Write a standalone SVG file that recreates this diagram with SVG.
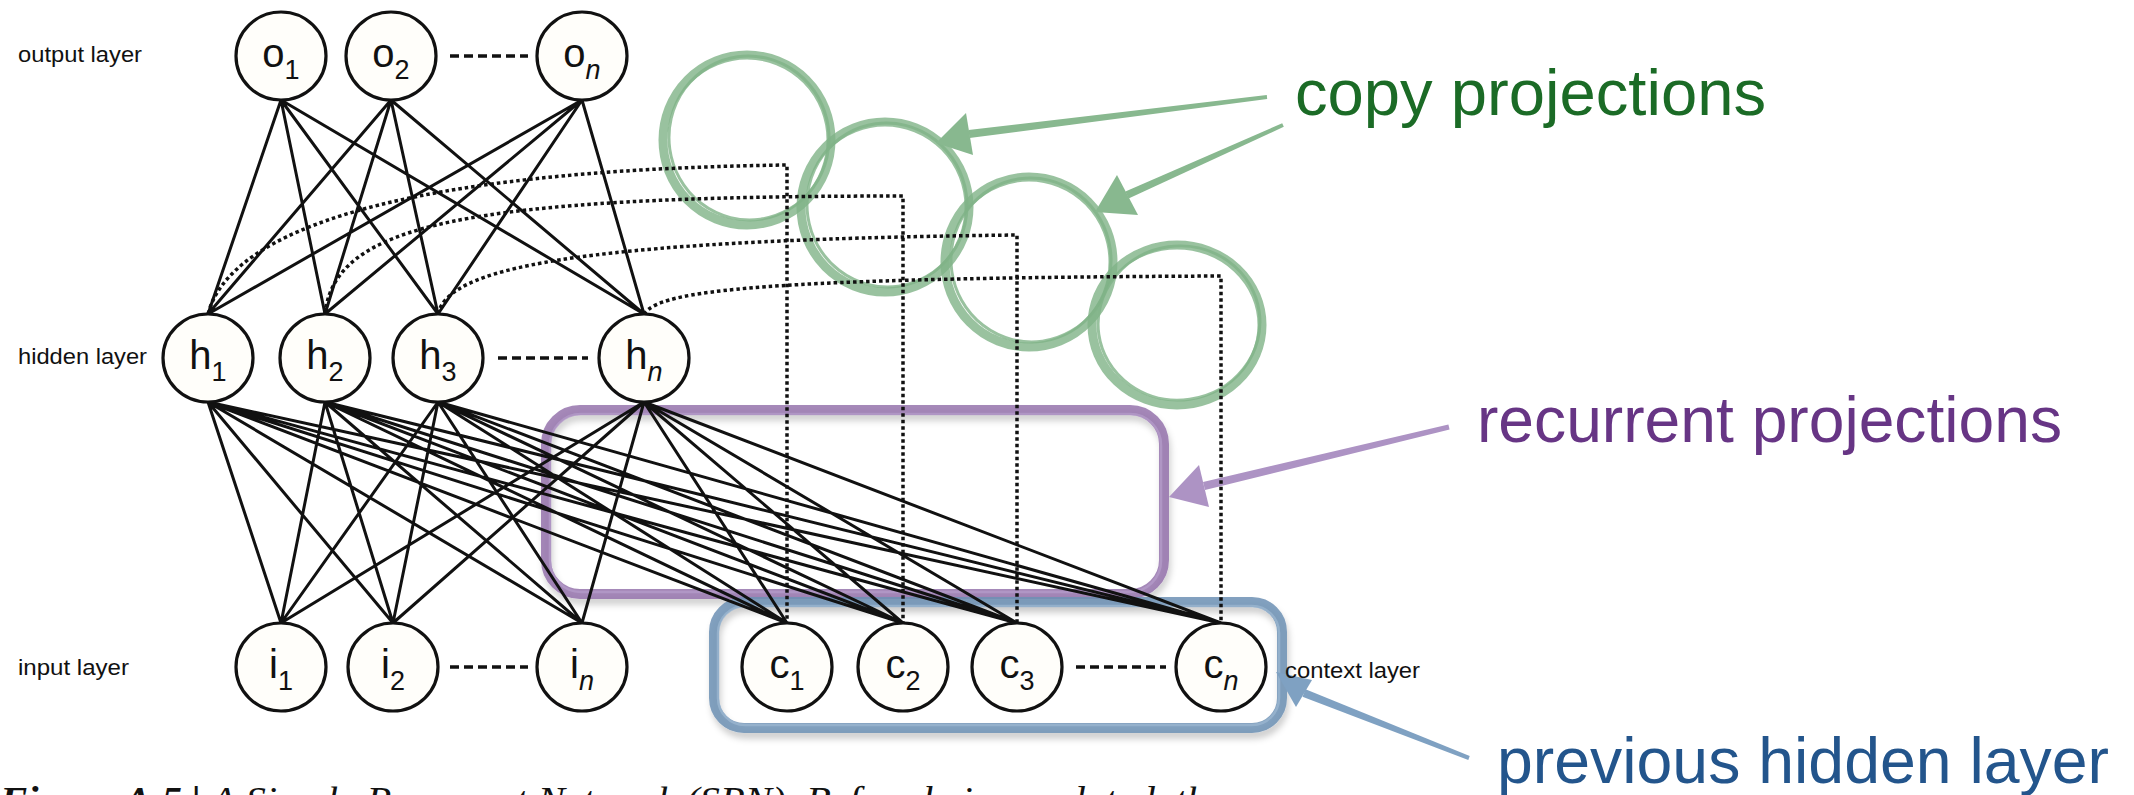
<svg xmlns="http://www.w3.org/2000/svg" width="2134" height="795" viewBox="0 0 2134 795">
<defs>
<style>
.node{fill:#fffefa;stroke:#111;stroke-width:3.2}
.lbl{font-family:"Liberation Sans",Arial,sans-serif;font-size:40px;fill:#111;text-anchor:middle}
.sub{font-size:27px}
.it{font-style:italic}
.layer{font-family:"Liberation Sans",Arial,sans-serif;font-size:22px;fill:#111}
.w{stroke:#111;stroke-width:3;fill:none}
.dot{stroke:#111;stroke-width:3.5;fill:none;stroke-dasharray:3.5 3}
.dash{stroke:#111;stroke-width:3.5;fill:none;stroke-dasharray:9 5}
.gc{fill:none;stroke:#7fb387;stroke-opacity:.8}
.big{font-family:"Liberation Sans",Arial,sans-serif;font-size:64px}
</style>
<filter id="sh" x="-10%" y="-10%" width="120%" height="140%"><feDropShadow dx="2" dy="6" stdDeviation="3" flood-color="#000" flood-opacity="0.22"/></filter>
</defs>
<rect width="2134" height="795" fill="#fff"/>

<g id="recurrent-box">
<rect x="546" y="410" width="618" height="184" rx="34" fill="none" stroke="#8f6aa8" stroke-width="10" stroke-opacity=".8" filter="url(#sh)"/>
<rect x="550" y="414" width="611" height="178" rx="31" fill="none" stroke="#b39ac8" stroke-width="2.5" stroke-opacity=".8"/>
</g>
<g id="context-box">
<rect x="714" y="602" width="568" height="126" rx="30" fill="none" stroke="#6d91b4" stroke-width="10" stroke-opacity=".85" filter="url(#sh)"/>
<rect x="718" y="606" width="561" height="119" rx="27" fill="none" stroke="#9ab5cf" stroke-width="2.5" stroke-opacity=".8"/>
</g>

<g id="copy-circles">
<ellipse class="gc" cx="747" cy="140" rx="84" ry="85" stroke-width="9"/>
<ellipse class="gc" cx="749" cy="138" rx="80" ry="82" stroke-width="3" transform="rotate(-8 749 138)"/>
<ellipse class="gc" cx="885" cy="207" rx="84" ry="85" stroke-width="9"/>
<ellipse class="gc" cx="887" cy="205" rx="80" ry="82" stroke-width="3" transform="rotate(-8 887 205)"/>
<ellipse class="gc" cx="1029" cy="262" rx="84" ry="85" stroke-width="9"/>
<ellipse class="gc" cx="1031" cy="260" rx="80" ry="82" stroke-width="3" transform="rotate(-8 1031 260)"/>
<ellipse class="gc" cx="1177" cy="325" rx="85" ry="80" stroke-width="9"/>
<ellipse class="gc" cx="1179" cy="323" rx="81" ry="77" stroke-width="3" transform="rotate(-8 1179 323)"/>
</g>

<g id="arrows">
<polygon points="1267.2,99 1266.8,95 968.5,130 969.5,138" fill="#88b88f"/>
<polygon points="966,113 936,143 973,155" fill="#88b88f"/>
<polygon points="1283.8,126.8 1282.2,123.2 1125.4,191.4 1128.6,198.6" fill="#88b88f"/>
<polygon points="1117,175 1095,212 1138,215" fill="#88b88f"/>
<polygon points="1449.6,429.4 1448.4,424.6 1203,482 1205,490" fill="#ad93c4"/>
<polygon points="1199,465 1169,497 1209,507" fill="#ad93c4"/>
<polygon points="1468.3,759.9 1469.7,756.1 1305.5,689.3 1302.5,696.7" fill="#7fa1c2"/>
<polygon points="1276,672 1312,680 1296,707" fill="#7fa1c2"/>
</g>

<g id="connectors">
<path class="w" d="M281,100L208,314M281,100L325,314M281,100L438,314M281,100L644,314
M391,100L208,314M391,100L325,314M391,100L438,314M391,100L644,314
M582,100L208,314M582,100L325,314M582,100L438,314M582,100L644,314"/>
<path class="w" d="M208,402L281,623M208,402L393,623M208,402L582,623M208,402L787,623M208,402L903,623M208,402L1017,623M208,402L1221,623
M325,402L281,623M325,402L393,623M325,402L582,623M325,402L787,623M325,402L903,623M325,402L1017,623M325,402L1221,623
M438,402L281,623M438,402L393,623M438,402L582,623M438,402L787,623M438,402L903,623M438,402L1017,623M438,402L1221,623
M644,402L281,623M644,402L393,623M644,402L582,623M644,402L787,623M644,402L903,623M644,402L1017,623M644,402L1221,623"/>
<path class="dot" d="M208,314C230,230 400,170 787,165V623"/>
<path class="dot" d="M325,314C335,225 460,196 903,196V623"/>
<path class="dot" d="M438,314C448,270 560,240 1017,235V623"/>
<path class="dot" d="M644,314C660,290 760,278 1221,276V623"/>
<path class="dash" d="M450,56H528M498,358H588M450,667H528M1076,667H1166"/>
</g>

<g id="o1"><ellipse class="node" cx="281" cy="56" rx="45" ry="44"/><text class="lbl" x="281" y="67">o<tspan class="sub" dy="12">1</tspan></text></g>
<g id="o2"><ellipse class="node" cx="391" cy="56" rx="45" ry="44"/><text class="lbl" x="391" y="67">o<tspan class="sub" dy="12">2</tspan></text></g>
<g id="on"><ellipse class="node" cx="582" cy="56" rx="45" ry="44"/><text class="lbl" x="582" y="67">o<tspan class="sub it" dy="12">n</tspan></text></g>

<g id="h1"><ellipse class="node" cx="208" cy="358" rx="45" ry="44"/><text class="lbl" x="208" y="369">h<tspan class="sub" dy="12">1</tspan></text></g>
<g id="h2"><ellipse class="node" cx="325" cy="358" rx="45" ry="44"/><text class="lbl" x="325" y="369">h<tspan class="sub" dy="12">2</tspan></text></g>
<g id="h3"><ellipse class="node" cx="438" cy="358" rx="45" ry="44"/><text class="lbl" x="438" y="369">h<tspan class="sub" dy="12">3</tspan></text></g>
<g id="hn"><ellipse class="node" cx="644" cy="358" rx="45" ry="44"/><text class="lbl" x="644" y="369">h<tspan class="sub it" dy="12">n</tspan></text></g>

<g id="i1"><ellipse class="node" cx="281" cy="667" rx="45" ry="44"/><text class="lbl" x="281" y="678">i<tspan class="sub" dy="12">1</tspan></text></g>
<g id="i2"><ellipse class="node" cx="393" cy="667" rx="45" ry="44"/><text class="lbl" x="393" y="678">i<tspan class="sub" dy="12">2</tspan></text></g>
<g id="in"><ellipse class="node" cx="582" cy="667" rx="45" ry="44"/><text class="lbl" x="582" y="678">i<tspan class="sub it" dy="12">n</tspan></text></g>

<g id="c1"><ellipse class="node" cx="787" cy="667" rx="45" ry="44"/><text class="lbl" x="787" y="678">c<tspan class="sub" dy="12">1</tspan></text></g>
<g id="c2"><ellipse class="node" cx="903" cy="667" rx="45" ry="44"/><text class="lbl" x="903" y="678">c<tspan class="sub" dy="12">2</tspan></text></g>
<g id="c3"><ellipse class="node" cx="1017" cy="667" rx="45" ry="44"/><text class="lbl" x="1017" y="678">c<tspan class="sub" dy="12">3</tspan></text></g>
<g id="cn"><ellipse class="node" cx="1221" cy="667" rx="45" ry="44"/><text class="lbl" x="1221" y="678">c<tspan class="sub it" dy="12">n</tspan></text></g>

<g id="labels">
<text class="layer" x="18" y="62" textLength="124" lengthAdjust="spacingAndGlyphs">output layer</text>
<text class="layer" x="18" y="364" textLength="129" lengthAdjust="spacingAndGlyphs">hidden layer</text>
<text class="layer" x="18" y="675" textLength="111" lengthAdjust="spacingAndGlyphs">input layer</text>
<text class="layer" x="1285" y="678" textLength="135" lengthAdjust="spacingAndGlyphs">context layer</text>
<text class="big" x="1295" y="115" fill="#1b6b26" textLength="471" lengthAdjust="spacingAndGlyphs">copy projections</text>
<text class="big" x="1477" y="442" fill="#673585" textLength="585" lengthAdjust="spacingAndGlyphs">recurrent projections</text>
<text class="big" x="1497" y="783" fill="#23558c" textLength="612" lengthAdjust="spacingAndGlyphs">previous hidden layer</text>
<text x="0" y="813" font-family="'Liberation Serif',serif" font-size="38" font-style="italic" fill="#111" textLength="1225" lengthAdjust="spacingAndGlyphs"><tspan font-weight="bold">Figure A.5 | </tspan>A Simple Recurrent Network (SRN). Before being updated, the</text>
</g>
</svg>
